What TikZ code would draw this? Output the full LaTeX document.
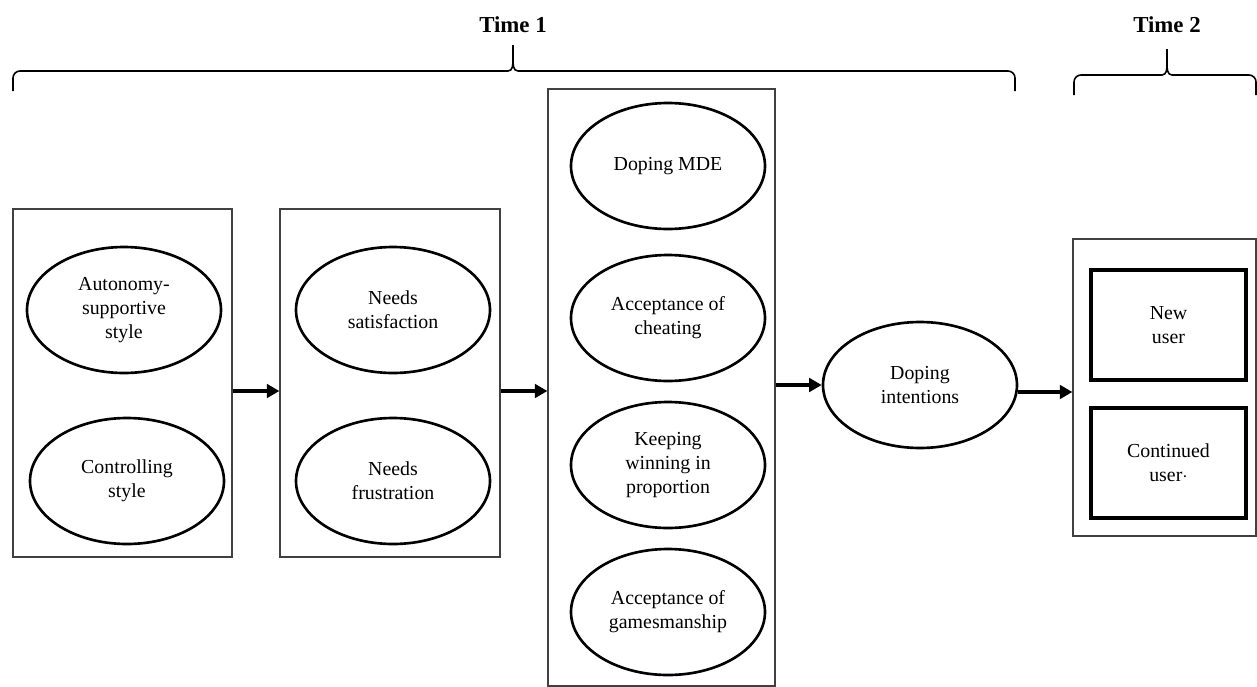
\documentclass[tikz,border=0pt]{standalone}
\usepackage{fontspec}
\setmainfont{Liberation Serif}
\usetikzlibrary{shapes.geometric,arrows.meta}
\newcommand{\fsz}{\fontsize{11.3pt}{13.6pt}\selectfont}

\begin{document}
\begin{tikzpicture}[
  blk/.style={draw=black!75,line width=0.7pt,inner sep=0pt},
  lat/.style={draw,ellipse,line width=1.5pt,minimum width=3.88cm,minimum height=2.52cm,inner sep=0pt,align=center,font=\fsz},
  obs/.style={draw,line width=1.9pt,minimum width=3.1cm,minimum height=2.2cm,align=center,font=\fsz},
  arr/.style={line width=1.8pt,-{Triangle[length=0.25cm,width=0.27cm]}},
  brc/.style={line width=0.9pt}]
\useasboundingbox (0,0) rectangle (25.14,-13.74);
% time labels and braces
\node[font=\fontsize{13pt}{15pt}\selectfont\bfseries] (t1) at (10.26,-0.5) {Time 1};
\node[font=\fontsize{13pt}{15pt}\selectfont\bfseries] (t2) at (23.34,-0.5) {Time 2};
\draw[brc] (0.26,-1.82) -- (0.26,-1.56) to[out=90,in=180] (0.4,-1.42) -- (10.16,-1.42) to[out=0,in=-90] (10.26,-1.2) -- (10.26,-0.9) -- (10.26,-1.2) to[out=-90,in=180] (10.36,-1.42) -- (20.16,-1.42) to[out=0,in=90] (20.3,-1.56) -- (20.3,-1.82);
\draw[brc] (21.48,-1.9) -- (21.48,-1.64) to[out=90,in=180] (21.62,-1.5) -- (23.24,-1.5) to[out=0,in=-90] (23.34,-1.28) -- (23.34,-0.98) -- (23.34,-1.28) to[out=-90,in=180] (23.44,-1.5) -- (24.98,-1.5) to[out=0,in=90] (25.12,-1.64) -- (25.12,-1.9);
% groups
\node[blk,minimum width=4.38cm,minimum height=6.96cm] (grp1) at (2.45,-7.66) {};
\node[blk,minimum width=4.4cm,minimum height=6.96cm] (grp2) at (7.8,-7.66) {};
\node[blk,minimum width=4.54cm,minimum height=11.94cm] (grp3) at (13.23,-7.75) {};
\node[blk,minimum width=3.66cm,minimum height=5.94cm] (grp4) at (23.29,-7.75) {};
% constructs
\node[lat] (aut) at (2.48,-6.2) {Autonomy-\\supportive\\style};
\node[lat] (ctrl) at (2.54,-9.62) {Controlling\\style};
\node[lat] (sat) at (7.86,-6.2) {Needs\\satisfaction};
\node[lat] (fru) at (7.86,-9.62) {Needs\\frustration};
\node[lat] (mde) at (13.36,-3.32) {Doping MDE};
\node[lat] (cheat) at (13.36,-6.36) {Acceptance of\\cheating};
\node[lat] (keep) at (13.36,-9.3) {Keeping\\winning in\\proportion};
\node[lat] (games) at (13.36,-12.24) {Acceptance of\\gamesmanship};
\node[lat] (dint) at (18.4,-7.7) {Doping\\intentions};
\node[obs] (newu) at (23.37,-6.5) {New\\user};
\node[obs] (contu) at (23.37,-9.26) {Continued\\user$\cdot$};
% paths
\draw[arr] ([yshift=-0.16cm]grp1.east) -- ([yshift=-0.16cm]grp2.west);
\draw[arr] ([yshift=-0.16cm]grp2.east) -- ([yshift=-0.16cm]grp2.east -| grp3.west);
\draw[arr] (dint.west -| grp3.east) -- (dint.west);
\draw[arr] ([yshift=-0.14cm]dint.east) -- ([yshift=-0.14cm]dint.east -| grp4.west);
\end{tikzpicture}
\end{document}
